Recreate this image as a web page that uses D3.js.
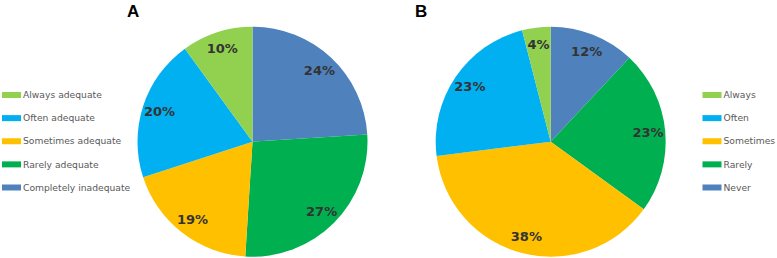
<!DOCTYPE html>
<html>
<head>
<meta charset="utf-8">
<script src="https://cdn.jsdelivr.net/npm/d3@7"></script>
<style>
  body { margin: 0; background: #fff; }
</style>
</head>
<body>
<div id="chart"></div>
<script>
// chart data
const labelsA = ["Completely inadequate", "Rarely adequate", "Sometimes adequate", "Often adequate", "Always adequate"];
const valuesA = [24, 27, 19, 20, 10];
const labelsB = ["Never", "Rarely", "Sometimes", "Often", "Always"];
const valuesB = [12, 23, 38, 23, 4];
const colors = ["#4F81BD", "#00B050", "#FFC000", "#00B0F0", "#92D050"];

const width = 777, height = 258;
const radius = 115;

const svg = d3.select("#chart")
    .append("svg")
    .attr("width", width)
    .attr("height", height);

const pie = d3.pie().sort(null).value(d => d);
const arc = d3.arc().innerRadius(0).outerRadius(radius);
const labelArc = d3.arc().innerRadius(radius * 0.85).outerRadius(radius * 0.85);

function drawPie(values, cx, cy) {
    const g = svg.append("g").attr("transform", `translate(${cx},${cy})`);
    const arcs = pie(values);
    g.selectAll("path")
        .data(arcs)
        .join("path")
        .attr("d", arc)
        .attr("fill", (d, i) => colors[i]);
    g.selectAll("text")
        .data(arcs)
        .join("text")
        .attr("transform", d => `translate(${labelArc.centroid(d)})`)
        .attr("text-anchor", "middle")
        .attr("dy", "0.36em")
        .style("font-family", "DejaVu Sans")
        .style("font-weight", "bold")
        .style("font-size", "13px")
        .style("fill", "#333")
        .text(d => d.data + "%");
}

// legend (drawn from Always at top down to the first category)
function drawLegend(labels, x0) {
    const rows = labels.map((l, i) => ({ label: l, color: colors[i] })).reverse();
    const y = d3.scalePoint().domain(d3.range(rows.length)).range([95, 187.5]);
    const g = svg.append("g");
    const item = g.selectAll("g")
        .data(rows)
        .join("g")
        .attr("transform", (d, i) => `translate(${x0},${y(i)})`);
    item.append("rect")
        .attr("x", 0).attr("y", -3)
        .attr("width", 19).attr("height", 6)
        .attr("fill", d => d.color);
    item.append("text")
        .attr("x", 21)
        .attr("dy", "0.35em")
        .style("font-family", "DejaVu Sans")
        .style("font-size", "9.2px")
        .style("fill", "#595959")
        .text(d => d.label);
}

drawPie(valuesA, 252.5, 141.7);
drawPie(valuesB, 550.7, 141.7);
drawLegend(labelsA, 2);
drawLegend(labelsB, 702.5);

// panel letters
svg.append("text").attr("x", 127).attr("y", 17)
    .style("font-family", "Liberation Sans").style("font-weight", "bold")
    .style("font-size", "17px").text("A");
svg.append("text").attr("x", 415).attr("y", 17)
    .style("font-family", "Liberation Sans").style("font-weight", "bold")
    .style("font-size", "17px").text("B");
</script>
</body>
</html>
